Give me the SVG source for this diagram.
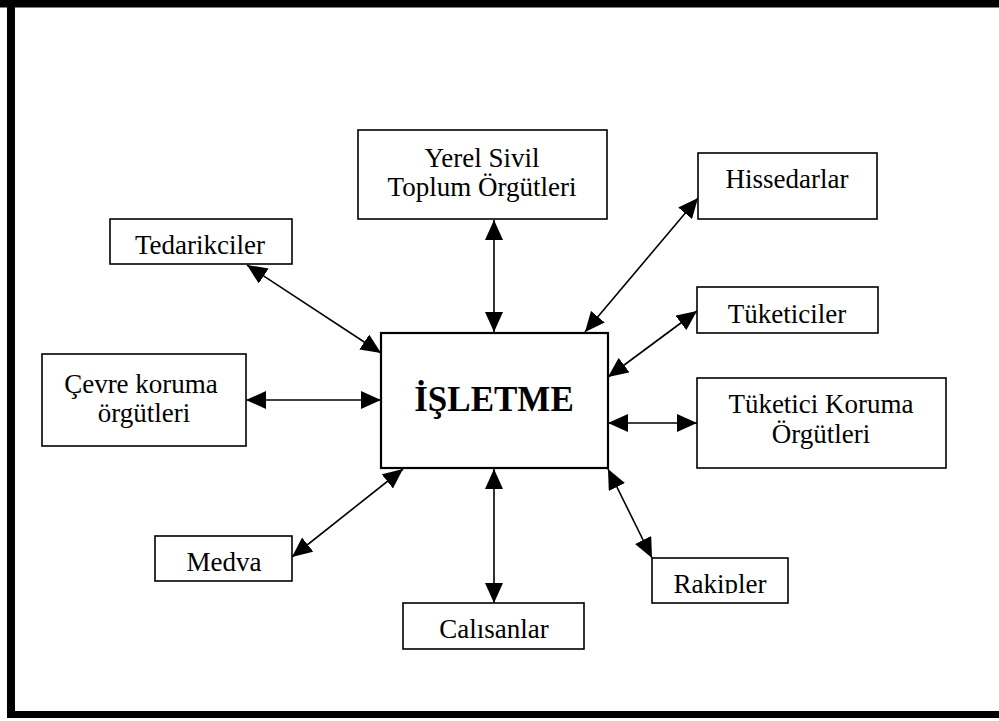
<svg xmlns="http://www.w3.org/2000/svg" width="999" height="721" viewBox="0 0 999 721">
  <style>
    .box { fill: #fff; stroke: #000; stroke-width: 1.6; }
    .main { fill: #fff; stroke: #000; stroke-width: 2.2; }
    .lbl { font-family: "Liberation Serif", "Times New Roman", serif; font-size: 27px; fill: #000; text-anchor: middle; }
    .big { font-family: "Liberation Serif", "Times New Roman", serif; font-size: 35px; font-weight: bold; fill: #000; text-anchor: middle; }
    .conn line { stroke: #000; stroke-width: 1.6; marker-start: url(#ah); marker-end: url(#ah); }
  </style>
  <defs>
    <marker id="ah" markerUnits="userSpaceOnUse" markerWidth="20" markerHeight="18" refX="20" refY="9" orient="auto-start-reverse" viewBox="0 0 20 18">
      <path d="M0,0 L20,9 L0,18 Z" fill="#000"/>
    </marker>
    <clipPath id="clipRak"><rect x="652" y="558" width="136" height="35.5"/></clipPath>
  </defs>
  <rect width="999" height="721" fill="#fff"/>
  <g id="frame" fill="#000">
    <rect x="0" y="0" width="999" height="7.5"/>
    <rect x="7" y="0" width="8" height="718"/>
    <rect x="7" y="711" width="992" height="7"/>
  </g>
  <g id="connectors" class="conn">
    <line x1="494" y1="220" x2="494" y2="332"/>
    <line x1="247" y1="265" x2="381" y2="353"/>
    <line x1="246" y1="400" x2="381" y2="400"/>
    <line x1="698" y1="198" x2="585" y2="332"/>
    <line x1="697" y1="311" x2="608" y2="377"/>
    <line x1="608" y1="423" x2="697" y2="423"/>
    <line x1="292" y1="557" x2="403" y2="469"/>
    <line x1="494" y1="469" x2="494" y2="603"/>
    <line x1="608" y1="469" x2="652" y2="558"/>
  </g>
  <g id="isletme">
    <rect class="main" x="381" y="333" width="227" height="135"/>
    <text class="big" x="494" y="411">İŞLETME</text>
  </g>
  <g id="yerel">
    <rect class="box" x="358" y="130" width="249" height="89"/>
    <text class="lbl" x="482" y="167">Yerel Sivil</text>
    <text class="lbl" x="482" y="196">Toplum Örgütleri</text>
  </g>
  <g id="tedarikciler">
    <rect class="box" x="110" y="219" width="182" height="45"/>
    <text class="lbl" x="200" y="254">Tedarikciler</text>
  </g>
  <g id="cevre">
    <rect class="box" x="42" y="354" width="204" height="92"/>
    <text class="lbl" x="141" y="393">Çevre koruma</text>
    <text class="lbl" x="144" y="422">örgütleri</text>
  </g>
  <g id="hissedarlar">
    <rect class="box" x="698" y="153" width="179" height="66"/>
    <text class="lbl" x="787" y="188">Hissedarlar</text>
  </g>
  <g id="tuketiciler">
    <rect class="box" x="697" y="287" width="181" height="46"/>
    <text class="lbl" x="787" y="323">Tüketiciler</text>
  </g>
  <g id="tuketici-koruma">
    <rect class="box" x="697" y="378" width="249" height="90"/>
    <text class="lbl" x="821" y="413">Tüketici Koruma</text>
    <text class="lbl" x="821" y="443">Örgütleri</text>
  </g>
  <g id="medva">
    <rect class="box" x="155" y="536" width="137" height="45"/>
    <text class="lbl" x="224" y="571">Medva</text>
  </g>
  <g id="calisanlar">
    <rect class="box" x="403" y="603" width="181" height="46"/>
    <text class="lbl" x="494" y="638">Calısanlar</text>
  </g>
  <g id="rakipler">
    <rect class="box" x="652" y="558" width="136" height="45"/>
    <text class="lbl" x="720" y="593" clip-path="url(#clipRak)">Rakipler</text>
  </g>
</svg>
